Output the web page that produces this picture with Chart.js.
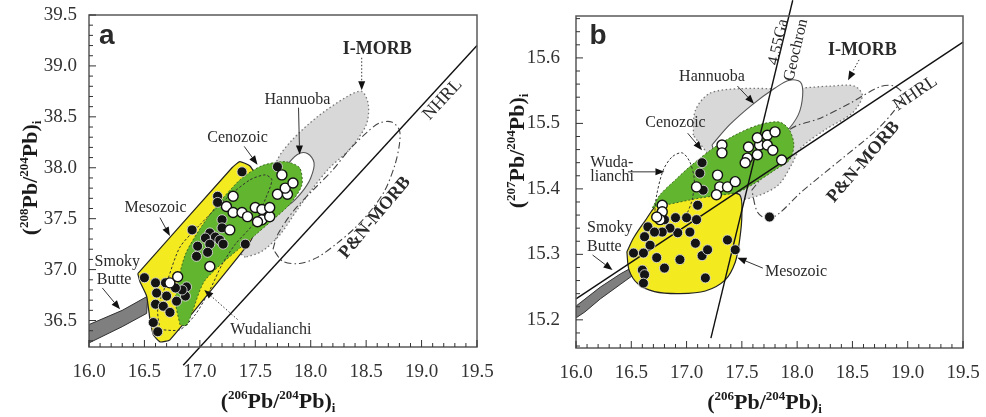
<!DOCTYPE html>
<html>
<head>
<meta charset="utf-8">
<script src="https://cdn.jsdelivr.net/npm/chart.js@4.4.1/dist/chart.umd.min.js"></script>
<style>
  html, body { margin: 0; padding: 0; background: #fff; }
  #wrap { position: relative; width: 986px; height: 417px; overflow: hidden; background: #fff; }
  #chartA { position: absolute; left: 0; top: 0; width: 500px; height: 417px; }
  #chartB { position: absolute; left: 490px; top: 0; width: 496px; height: 417px; }
</style>
</head>
<body>
<div id="wrap">
  <canvas id="chartA" width="500" height="417"></canvas>
  <canvas id="chartB" width="496" height="417"></canvas>
</div>
<script>
// tick values
const xTicks = [16.0, 16.5, 17.0, 17.5, 18.0, 18.5, 19.0, 19.5];
const yTicksA = [36.5, 37.0, 37.5, 38.0, 38.5, 39.0, 39.5];
const yTicksB = [15.2, 15.3, 15.4, 15.5, 15.6];

// ---- panel a : 208Pb/204Pb vs 206Pb/204Pb ----
const mesozoicA = [
  [17.38,37.96],[17.70,38.01],[17.16,37.72],[17.16,37.66],[16.93,37.39],[17.41,37.25],
  [17.20,37.49],[17.20,37.41],[17.09,37.36],[17.05,37.31],[17.14,37.32],[17.18,37.29],
  [16.98,37.23],[17.09,37.25],[17.21,37.25],[16.97,37.13],[17.07,37.17],[16.50,36.92],
  [16.60,36.87],[16.69,36.87],[16.88,36.83],[16.61,36.77],[16.70,36.74],[16.79,36.69],
  [16.87,36.74],[16.60,36.66],[16.67,36.64],[16.73,36.58],[16.58,36.48],[16.62,36.39],
  [16.84,36.80],[16.78,36.82]
];
const cenozoicA = [
  [17.30,37.72],[17.24,37.62],[17.30,37.56],[17.38,37.56],[17.43,37.52],[17.50,37.61],
  [17.56,37.59],[17.56,37.49],[17.63,37.52],[17.63,37.61],[17.70,37.74],[17.79,37.74],
  [17.77,37.80],[17.84,37.85],[17.74,37.93],[17.27,37.39],[17.09,37.03],[16.73,36.87],
  [16.80,36.93],[17.52,37.47]
];
const smokyA = [[16.0,36.46],[16.3,36.6],[16.53,36.74],[16.52,36.57],[16.3,36.44],[16.0,36.28]];
const mesoFieldA = [[16.44,36.96],[16.46,36.88],[16.52,36.74],[16.55,36.51],[16.58,36.36],[16.64,36.29],
  [16.73,36.31],[17.45,37.27],[17.52,37.44],[17.50,37.93],[17.45,38.02],[17.36,38.06],[17.29,38.00]];
const cenoFieldA = [[16.82,36.46],[16.78,36.71],[16.87,37.15],[17.09,37.54],[17.36,37.88],[17.56,38.02],
  [17.77,38.06],[17.90,38.00],[17.92,37.83],[17.81,37.64],[17.50,37.34],[17.05,36.90],[16.93,36.58],[16.88,36.45]];
const wudaFieldA = [[16.64,36.41],[16.62,36.61],[16.71,36.90],[16.82,37.22],[17.00,37.44],[17.23,37.69],
  [17.45,37.88],[17.59,37.93],[17.65,37.88],[17.59,37.69],[17.50,37.47],[17.32,37.25],[17.20,37.05],
  [17.09,36.80],[16.96,36.56],[16.82,36.41]];
const hannuobaA = [[17.65,37.78],[17.77,38.00],[17.88,38.13],[17.97,38.14],[18.03,38.05],[18.00,37.90],
  [17.92,37.76],[17.81,37.64],[17.70,37.59]];
const imorbA = [[17.41,37.12],[17.34,37.20],[17.41,37.39],[17.59,37.74],[17.70,38.08],[17.83,38.27],
  [18.06,38.50],[18.33,38.70],[18.46,38.75],[18.52,38.62],[18.50,38.42],[18.35,38.18],[18.17,38.00],
  [18.02,37.80],[17.88,37.59],[17.72,37.34],[17.56,37.18]];
const pnmorbA = [[17.66,37.20],[17.70,37.34],[17.84,37.57],[18.02,37.78],[18.20,37.98],[18.35,38.18],
  [18.51,38.35],[18.62,38.44],[18.73,38.45],[18.80,38.37],[18.80,38.23],[18.76,38.03],[18.67,37.78],
  [18.55,37.59],[18.40,37.41],[18.24,37.26],[18.06,37.12],[17.90,37.06],[17.75,37.08]];
const nhrlA = [[16.85,36.06],[19.5,39.2]];

// ---- panel b : 207Pb/204Pb vs 206Pb/204Pb ----
const mesozoicB = [
  [17.14,15.440],[17.12,15.424],[17.15,15.398],[17.10,15.375],[17.00,15.356],[17.09,15.353],
  [17.03,15.334],[16.92,15.333],[16.85,15.340],[16.80,15.353],[16.78,15.334],[16.65,15.342],
  [16.62,15.327],[16.67,15.314],[16.52,15.302],[16.61,15.302],[16.73,15.295],[16.60,15.276],
  [16.62,15.269],[16.61,15.256],[16.80,15.279],[16.94,15.292],[17.08,15.317],[17.14,15.298],
  [17.19,15.307],[17.37,15.322],[17.44,15.307],[17.17,15.264],[17.75,15.357],[16.90,15.356],
  [16.71,15.334]
];
const cenozoicB = [
  [17.32,15.467],[17.32,15.455],[17.56,15.464],[17.55,15.447],[17.66,15.467],[17.64,15.452],
  [17.73,15.482],[17.80,15.487],[17.73,15.467],[17.78,15.459],[17.28,15.421],[17.30,15.403],
  [17.37,15.403],[17.44,15.411],[17.27,15.391],[17.09,15.403],[16.78,15.375],[16.78,15.365],
  [16.76,15.353],[17.86,15.444],[17.53,15.440],[17.64,15.478],[16.73,15.357]
];
const smokyB = [[16.0,15.221],[16.22,15.250],[16.40,15.270],[16.56,15.285],[16.58,15.276],
  [16.40,15.254],[16.22,15.232],[16.08,15.212],[16.0,15.203]];
const mesoFieldB = [[16.46,15.304],[16.52,15.325],[16.62,15.350],[16.76,15.380],[17.03,15.389],[17.30,15.394],
  [17.48,15.391],[17.50,15.360],[17.48,15.322],[17.44,15.288],[17.35,15.261],[17.17,15.244],[16.94,15.240],
  [16.71,15.243],[16.56,15.255],[16.48,15.276]];
const cenoFieldB = [[16.69,15.371],[16.76,15.391],[16.90,15.414],[17.03,15.434],[17.24,15.462],[17.46,15.484],
  [17.66,15.498],[17.84,15.502],[17.93,15.490],[17.97,15.467],[17.93,15.444],[17.80,15.429],[17.62,15.409],
  [17.46,15.395],[17.12,15.386],[16.80,15.375]];
const wudaFieldB = [[16.71,15.360],[16.73,15.391],[16.79,15.429],[16.87,15.449],[16.96,15.455],[17.03,15.441],
  [17.07,15.414],[17.05,15.383],[16.99,15.356]];
const hannuobaB = [[17.23,15.467],[17.39,15.498],[17.59,15.528],[17.80,15.554],[17.93,15.566],[18.03,15.563],
  [18.05,15.543],[18.01,15.513],[17.89,15.485],[17.71,15.459],[17.48,15.437],[17.30,15.437]];
const imorbB = [[17.06,15.482],[17.08,15.520],[17.21,15.546],[17.48,15.553],[17.93,15.553],[18.30,15.557],
  [18.52,15.557],[18.59,15.542],[18.50,15.516],[18.25,15.490],[18.03,15.462],[17.95,15.437],[17.83,15.406],
  [17.62,15.388],[17.44,15.386],[17.30,15.429]];
const pnmorbB = [[17.59,15.398],[17.80,15.444],[17.93,15.490],[18.21,15.508],[18.48,15.531],[18.75,15.556],
  [18.88,15.557],[18.96,15.543],[18.88,15.520],[18.72,15.490],[18.39,15.444],[18.03,15.394],[17.84,15.363],
  [17.73,15.354],[17.64,15.365]];
const nhrlB = [[16.0,15.232],[19.5,15.624]];
const geochronB = [[17.22,15.172],[17.96,15.688]];

// labels and arrows, in data units
const notesA = [
  { text: 'a', x: 16.16, y: 39.29, font: 'bold 28px "Liberation Sans"' },
  { text: 'I-MORB', x: 18.60, y: 39.16, font: 'bold 18px "Liberation Serif"' },
  { text: 'NHRL', x: 19.19, y: 38.67, rot: -47, font: '18px "Liberation Serif"' },
  { text: 'Hannuoba', x: 17.88, y: 38.67 },
  { text: 'Cenozoic', x: 17.34, y: 38.29 },
  { text: 'Mesozoic', x: 16.60, y: 37.61 },
  { text: 'Smoky', x: 16.05, y: 37.08, align: 'left' },
  { text: 'Butte', x: 16.07, y: 36.90, align: 'left' },
  { text: 'Wudalianchi', x: 17.64, y: 36.41 },
  { text: 'P&N-MORB', x: 18.58, y: 37.51, rot: -50, font: 'bold 18px "Liberation Serif"' }
];
const arrowsA = [
  [18.46, 39.08, 18.46, 38.76, true],
  [17.89, 38.59, 17.90, 38.13],
  [17.40, 38.21, 17.52, 38.03],
  [16.64, 37.51, 16.73, 37.33],
  [16.12, 36.82, 16.28, 36.61],
  [17.34, 36.51, 17.04, 36.80, true]
];
const notesB = [
  { text: 'b', x: 16.20, y: 15.633, font: 'bold 28px "Liberation Sans"' },
  { text: 'I-MORB', x: 18.59, y: 15.612, font: 'bold 18px "Liberation Serif"' },
  { text: 'NHRL', x: 19.07, y: 15.546, rot: -34, font: '18px "Liberation Serif"' },
  { text: 'Hannuoba', x: 17.23, y: 15.571 },
  { text: 'Cenozoic', x: 16.90, y: 15.501 },
  { text: 'Wuda-', x: 16.13, y: 15.440, align: 'left' },
  { text: 'lianchi', x: 16.13, y: 15.418, align: 'left' },
  { text: 'Smoky', x: 16.10, y: 15.340, align: 'left' },
  { text: 'Butte', x: 16.10, y: 15.311, align: 'left' },
  { text: 'Mesozoic', x: 17.99, y: 15.273 },
  { text: 'P&N-MORB', x: 18.60, y: 15.441, rot: -49, font: 'bold 18px "Liberation Serif"' },
  { text: '4.55Ga', x: 17.83, y: 15.624, rot: -77 },
  { text: 'Geochron', x: 17.99, y: 15.612, rot: -77 }
];
const arrowsB = [
  [18.56, 15.597, 18.46, 15.566, true],
  [17.46, 15.557, 17.61, 15.530],
  [17.01, 15.485, 17.14, 15.459],
  [16.47, 15.426, 16.80, 15.426],
  [16.15, 15.299, 16.33, 15.276],
  [17.69, 15.279, 17.46, 15.295]
];

const xTitle = [['(', 0], ['206', 1], ['Pb/', 0], ['204', 1], ['Pb)', 0], ['i', -1]];
const yTitleA = [['(', 0], ['208', 1], ['Pb/', 0], ['204', 1], ['Pb)', 0], ['i', -1]];
const yTitleB = [['(', 0], ['207', 1], ['Pb/', 0], ['204', 1], ['Pb)', 0], ['i', -1]];

const SERIF = '"Liberation Serif", "Times New Roman", serif';
Chart.defaults.font.family = SERIF;

function xy(arr) { return arr.map(p => ({ x: p[0], y: p[1] })); }
function closed(arr) { const d = xy(arr); d.push(d[0]); return d; }

function field(arr, o) {
  return {
    data: o.open ? xy(arr) : closed(arr),
    showLine: true,
    pointRadius: 0,
    borderWidth: o.width || 1,
    tension: o.tension === undefined ? 0.25 : o.tension,
    fill: o.bg ? 'shape' : false,
    backgroundColor: o.bg || 'rgba(0,0,0,0)',
    borderColor: o.line || '#333',
    borderDash: o.dash || [],
    clip: o.clip === undefined ? undefined : o.clip
  };
}
function dots(arr, filled) {
  return {
    data: xy(arr),
    showLine: false,
    pointRadius: 5,
    backgroundColor: filled ? '#141414' : '#ffffff',
    borderColor: filled ? '#e8e8e8' : '#111111',
    borderWidth: filled ? 0.8 : 1.4
  };
}

function stack(list) {
  // first item is drawn at the bottom
  return list.map((d, i) => Object.assign(d, { order: list.length - i }));
}

function arrow(ctx, x1, y1, x2, y2, dotted) {
  const a = Math.atan2(y2 - y1, x2 - x1);
  const hl = 9, hw = 3.5;
  const bx = x2 - hl * Math.cos(a), by = y2 - hl * Math.sin(a);
  ctx.save();
  ctx.strokeStyle = '#333';
  ctx.fillStyle = '#111';
  ctx.lineWidth = 1;
  ctx.setLineDash(dotted ? [1.5, 2] : []);
  ctx.beginPath();
  ctx.moveTo(x1, y1);
  ctx.lineTo(bx, by);
  ctx.stroke();
  ctx.setLineDash([]);
  ctx.beginPath();
  ctx.moveTo(x2, y2);
  ctx.lineTo(bx + hw * Math.sin(a), by - hw * Math.cos(a));
  ctx.lineTo(bx - hw * Math.sin(a), by + hw * Math.cos(a));
  ctx.closePath();
  ctx.fill();
  ctx.restore();
}

function drawRich(ctx, parts, cx, cy, rot) {
  const big = 'bold 22px ' + SERIF, small = 'bold 13px ' + SERIF;
  ctx.save();
  ctx.translate(cx, cy);
  ctx.rotate(rot);
  ctx.fillStyle = '#1a1a1a';
  ctx.textBaseline = 'alphabetic';
  ctx.textAlign = 'left';
  let w = 0;
  parts.forEach(p => { ctx.font = p[1] ? small : big; w += ctx.measureText(p[0]).width; });
  let x = -w / 2;
  parts.forEach(p => {
    ctx.font = p[1] ? small : big;
    const dy = p[1] === 1 ? -9 : (p[1] === -1 ? 4 : 0);
    ctx.fillText(p[0], x, 8 + dy);
    x += ctx.measureText(p[0]).width;
  });
  ctx.restore();
}

function decor(cfg) {
  return {
    id: 'decor',
    afterDatasetsDraw(chart) {
      const { ctx, scales: { x, y } } = chart;
      cfg.arrows.forEach(a => arrow(ctx, x.getPixelForValue(a[0]), y.getPixelForValue(a[1]),
        x.getPixelForValue(a[2]), y.getPixelForValue(a[3]), a[4]));
      cfg.notes.forEach(n => {
        ctx.save();
        ctx.translate(x.getPixelForValue(n.x), y.getPixelForValue(n.y));
        if (n.rot) ctx.rotate(n.rot * Math.PI / 180);
        ctx.font = n.font || ('16px ' + SERIF);
        ctx.fillStyle = '#2a2a2a';
        ctx.textAlign = n.align || 'center';
        ctx.textBaseline = 'middle';
        ctx.fillText(n.text, 0, 0);
        ctx.restore();
      });
    },
    afterDraw(chart) {
      const { ctx, chartArea: ca, scales: { x, y } } = chart;
      ctx.save();
      ctx.strokeStyle = '#5a5a5a';
      ctx.lineWidth = 1.5;
      ctx.strokeRect(ca.left, ca.top, ca.right - ca.left, ca.bottom - ca.top);
      ctx.strokeStyle = '#333';
      ctx.lineWidth = 1;
      const tickRun = (scale, step, major, draw) => {
        for (let i = Math.ceil(scale.min / step - 1e-6); i * step <= scale.max + 1e-9; i++) {
          const v = i * step;
          const isMajor = Math.abs(v / major - Math.round(v / major)) < 1e-6;
          draw(scale.getPixelForValue(v), isMajor ? 7 : 4);
        }
      };
      ctx.beginPath();
      tickRun(x, 0.1, 0.5, (p, len) => { ctx.moveTo(p, ca.bottom); ctx.lineTo(p, ca.bottom - len); });
      tickRun(y, cfg.yMinor, cfg.yMajor, (p, len) => { ctx.moveTo(ca.left, p); ctx.lineTo(ca.left + len, p); });
      ctx.stroke();
      ctx.restore();
      drawRich(ctx, xTitle, (ca.left + ca.right) / 2 - 5, ca.bottom + 53, 0);
      drawRich(ctx, cfg.yTitle, ca.left - 60, ca.top + cfg.yTitleOff, -Math.PI / 2);
    }
  };
}

function makeChart(id, o) {
  const tickFont = { family: SERIF, size: 19 };
  return new Chart(document.getElementById(id), {
    type: 'scatter',
    data: { datasets: o.datasets },
    options: {
      responsive: false,
      animation: false,
      events: [],
      layout: { padding: o.padding },
      plugins: { legend: { display: false }, tooltip: { enabled: false } },
      scales: {
        x: {
          type: 'linear', min: 16.0, max: 19.5,
          grid: { display: false, drawTicks: false }, border: { display: false },
          afterBuildTicks: s => { s.ticks = xTicks.map(v => ({ value: v })); },
          afterFit: s => { s.height = o.xH; s.paddingLeft = 0; s.paddingRight = 0; },
          ticks: { font: tickFont, color: '#333', padding: 14, maxRotation: 0, autoSkip: false,
                   callback: v => v.toFixed(1) }
        },
        y: {
          type: 'linear', min: o.yMin, max: o.yMax,
          grid: { display: false, drawTicks: false }, border: { display: false },
          afterBuildTicks: s => { s.ticks = o.yTicks.map(v => ({ value: v })); },
          afterFit: s => { s.width = o.yW; s.paddingTop = 0; s.paddingBottom = 0; },
          ticks: { font: tickFont, color: '#333', padding: o.yPad, autoSkip: false,
                   callback: v => v.toFixed(1) }
        }
      }
    },
    plugins: [decor(o.decor)]
  });
}

const GRAY = 'rgba(214,214,214,0.95)';
const YELLOW = '#f3ea1f';
const GREEN = '#62b52f';

makeChart('chartA', {
  padding: { left: 0, top: 15, right: 23, bottom: 0 },
  xH: 70, yW: 89, yPad: 12, yMin: 36.24, yMax: 39.5, yTicks: yTicksA,
  decor: { notes: notesA, arrows: arrowsA, yMinor: 0.1, yMajor: 0.5, yTitle: yTitleA, yTitleOff: 163 },
  datasets: stack([
    field(imorbA, { bg: GRAY, line: '#777', dash: [1.5, 2.5], width: 1.3, tension: 0.3 }),
    field(pnmorbA, { line: '#444', dash: [7, 3, 1.5, 3], width: 1.1, tension: 0.3 }),
    field(hannuobaA, { bg: '#ffffff', line: '#555', width: 1.1, tension: 0.35 }),
    field(smokyA, { bg: '#7f7f7f', line: '#333', width: 1, tension: 0 }),
    field(mesoFieldA, { bg: YELLOW, line: '#222', width: 1.2, tension: 0.15 }),
    field(cenoFieldA, { bg: GREEN, line: '#3d6b22', dash: [2, 2], width: 1, tension: 0.25 }),
    field(wudaFieldA, { line: '#333', dash: [2.5, 2], width: 1, tension: 0.25 }),
    field(nhrlA, { open: true, line: '#111', width: 1.4, tension: 0, clip: false }),
    dots(mesozoicA, true),
    dots(cenozoicA, false)
  ])
});

makeChart('chartB', {
  padding: { left: 0, top: 16, right: 23, bottom: 0 },
  xH: 69, yW: 86, yPad: 16, yMin: 15.157, yMax: 15.664, yTicks: yTicksB,
  decor: { notes: notesB, arrows: arrowsB, yMinor: 0.02, yMajor: 0.1, yTitle: yTitleB, yTitleOff: 135 },
  datasets: stack([
    field(imorbB, { bg: GRAY, line: '#777', dash: [1.5, 2.5], width: 1.3, tension: 0.3 }),
    field(pnmorbB, { line: '#444', dash: [7, 3, 1.5, 3], width: 1.1, tension: 0.3 }),
    field(hannuobaB, { bg: '#ffffff', line: '#555', width: 1.1, tension: 0.35 }),
    field(smokyB, { bg: '#7f7f7f', line: '#333', width: 1, tension: 0 }),
    field(mesoFieldB, { bg: YELLOW, line: '#222', width: 1.2, tension: 0.3 }),
    field(cenoFieldB, { bg: GREEN, line: '#3d6b22', dash: [2, 2], width: 1, tension: 0.3 }),
    field(wudaFieldB, { open: true, line: '#333', dash: [2.5, 2], width: 1, tension: 0.3 }),
    field(nhrlB, { open: true, line: '#111', width: 1.4, tension: 0, clip: false }),
    field(geochronB, { open: true, line: '#111', width: 1.4, tension: 0, clip: false }),
    dots(mesozoicB, true),
    dots(cenozoicB, false)
  ])
});
</script>
</body>
</html>
